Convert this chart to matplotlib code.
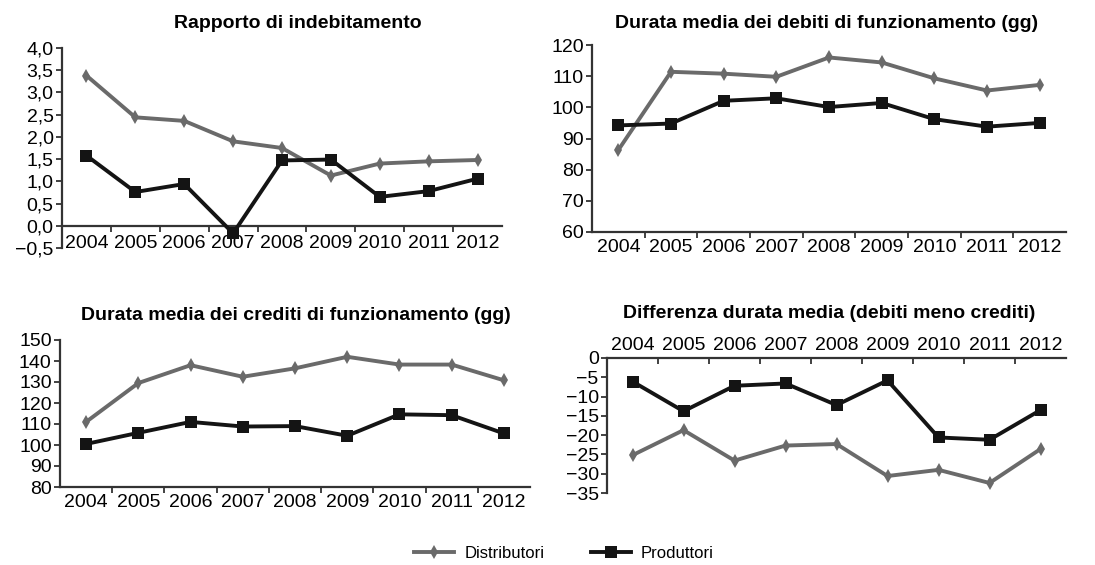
import numpy as np
import matplotlib
matplotlib.use("Agg")
import matplotlib.pyplot as plt
from matplotlib.ticker import FuncFormatter, FixedLocator

plt.rcParams['font.family'] = ['Liberation Sans', 'DejaVu Sans']

anni = ['2004', '2005', '2006', '2007', '2008', '2009', '2010', '2011', '2012']

# rapporto di indebitamento
indeb_distr = [3.38, 2.44, 2.36, 1.90, 1.75, 1.13, 1.40, 1.45, 1.48]
indeb_prod = [1.58, 0.76, 0.94, -0.17, 1.47, 1.49, 0.65, 0.78, 1.06]

# durata media debiti di funzionamento (gg)
debiti_distr = [86.3, 111.4, 110.8, 109.8, 116.0, 114.4, 109.3, 105.4, 107.2]
debiti_prod = [94.2, 94.8, 102.1, 102.9, 100.1, 101.4, 96.2, 93.8, 95.0]

# durata media crediti di funzionamento (gg)
crediti_distr = [111.0, 129.5, 138.0, 132.5, 136.5, 142.0, 138.3, 138.3, 130.8]
crediti_prod = [100.5, 105.8, 111.0, 108.8, 109.0, 104.4, 114.6, 114.2, 105.5]

# differenza durata media (debiti meno crediti)
diff_distr = [-25.2, -18.7, -26.6, -22.7, -22.3, -30.6, -29.0, -32.4, -23.6]
diff_prod = [-6.1, -13.8, -7.2, -6.6, -12.2, -5.8, -20.6, -21.2, -13.5]

GRIGIO = '#6a6a6a'
NERO = '#141414'
W, H = 1095, 565


def box(l, t, r, b):
    return [l / W, 1 - b / H, (r - l) / W, (b - t) / H]


def disegna(ax, distr, prod):
    x = np.arange(len(anni))
    ax.plot(x, distr, color=GRIGIO, lw=2.8, marker='d', ms=7, mew=0,
            label='Distributori', zorder=3)
    ax.plot(x, prod, color=NERO, lw=2.8, marker='s', ms=8.5, mew=0,
            label='Produttori', zorder=4)
    ax.set_xlim(-0.5, len(anni) - 0.5)
    ax.set_xticks(x)
    ax.set_xticklabels(anni)
    ax.xaxis.set_minor_locator(FixedLocator(np.arange(0.5, len(anni) - 0.6, 1)))
    for s in ['top', 'right']:
        ax.spines[s].set_visible(False)
    for s in ax.spines.values():
        s.set_linewidth(1.6)
        s.set_color('#333333')
    ax.tick_params(axis='x', which='major', length=0, labelsize=14, pad=5)
    ax.tick_params(axis='x', which='minor', length=4, width=1.3, color='#333333')
    ax.tick_params(axis='y', length=4, width=1.3, color='#333333', labelsize=14, pad=2)


fig = plt.figure(figsize=(10.95, 5.65), dpi=100)

virgola = FuncFormatter(lambda v, p: ('%.1f' % v).replace('.', ',').replace('-', '\u2212'))

# 1
ax1 = fig.add_axes(box(62, 48, 502, 248))
disegna(ax1, indeb_distr, indeb_prod)
ax1.set_ylim(-0.5, 4.0)
ax1.set_yticks(np.arange(-0.5, 4.01, 0.5))
ax1.yaxis.set_major_formatter(virgola)
ax1.spines['bottom'].set_position(('data', 0))
ax1.tick_params(axis='x', which='major', pad=7)
fig.text(298 / W, 1 - 23 / H, 'Rapporto di indebitamento', ha='center', va='center',
         fontsize=14, fontweight='bold')

# 2
ax2 = fig.add_axes(box(592, 45, 1066, 232))
disegna(ax2, debiti_distr, debiti_prod)
ax2.set_ylim(60, 120)
ax2.set_yticks(np.arange(60, 121, 10))
fig.text(827 / W, 1 - 24 / H, 'Durata media dei debiti di funzionamento (gg)', ha='center',
         va='center', fontsize=14, fontweight='bold')

# 3
ax3 = fig.add_axes(box(60, 340, 530, 487))
disegna(ax3, crediti_distr, crediti_prod)
ax3.set_ylim(80, 150)
ax3.set_yticks(np.arange(80, 151, 10))
fig.text(296 / W, 1 - 315 / H, 'Durata media dei crediti di funzionamento (gg)', ha='center',
         va='center', fontsize=14, fontweight='bold')

# 4
ax4 = fig.add_axes(box(607, 358, 1066, 493))
disegna(ax4, diff_distr, diff_prod)
ax4.set_ylim(-35, 0)
ax4.set_yticks(np.arange(-35, 1, 5))
ax4.yaxis.set_major_formatter(FuncFormatter(lambda v, p: ('%d' % v).replace('-', '\u2212')))
ax4.spines['bottom'].set_visible(False)
ax4.spines['top'].set_visible(True)
ax4.xaxis.tick_top()
ax4.tick_params(axis='x', which='major', pad=3)
ax4.tick_params(axis='x', which='minor', direction='in')
fig.text(829 / W, 1 - 313 / H, 'Differenza durata media (debiti meno crediti)', ha='center',
         va='center', fontsize=14, fontweight='bold')

h, l = ax1.get_legend_handles_labels()
fig.legend(h, l, loc='center', bbox_to_anchor=(564 / W, 1 - 553 / H), ncol=2,
           frameon=False, fontsize=12, handlelength=2.4, columnspacing=2.8, handletextpad=0.6)

fig.savefig('out.png', dpi=100)
